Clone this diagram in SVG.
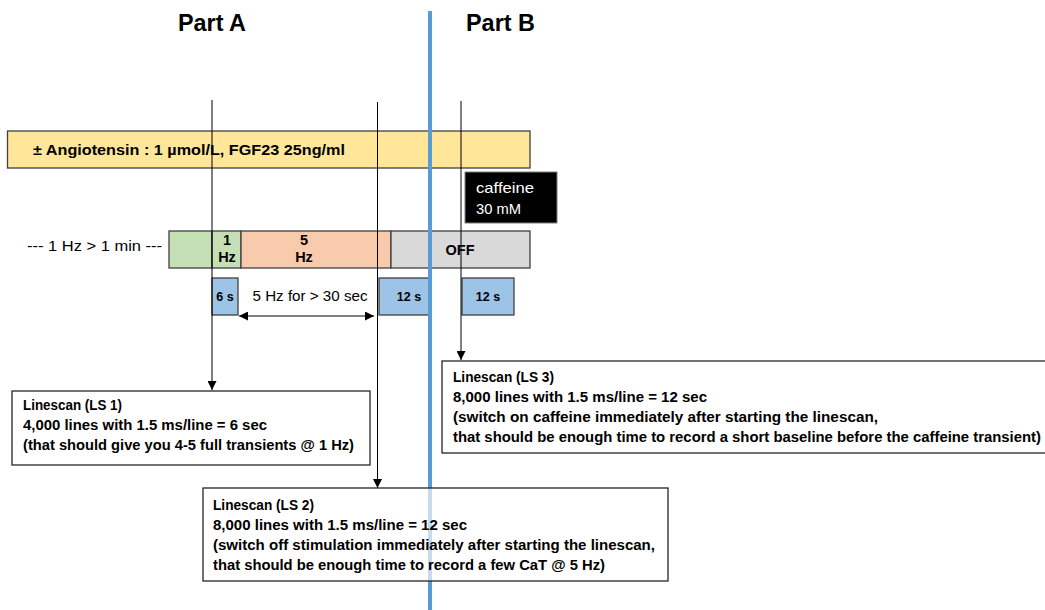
<svg xmlns="http://www.w3.org/2000/svg" width="1045" height="610" viewBox="0 0 1045 610">
<defs>
<style>
text{font-family:"Liberation Sans",Arial,sans-serif;fill:#000}
.t{font-size:23px;font-weight:bold}
.b{font-size:14.5px;font-weight:bold}
.n{font-size:14.5px}
.s{font-size:12.5px;font-weight:bold}
.bar{stroke:#404040;stroke-width:1.3}
.ln{stroke:#000;stroke-width:1;fill:none}
.box{fill:#fff;stroke:#262626;stroke-width:1.3}
</style>
<marker id="ah" viewBox="0 0 10 10" refX="10" refY="5" markerWidth="9" markerHeight="9" markerUnits="userSpaceOnUse" orient="auto-start-reverse">
<path d="M0,0 L10,5 L0,10 z" fill="#000"/>
</marker>
</defs>
<rect width="1045" height="610" fill="#fff"/>

<g id="titles">
<text class="t" x="212" y="31" text-anchor="middle" textLength="68" lengthAdjust="spacingAndGlyphs">Part A</text>
<text class="t" x="500.5" y="31" text-anchor="middle" textLength="69" lengthAdjust="spacingAndGlyphs">Part B</text>
</g>

<g id="treatment">
<rect class="bar" x="7.5" y="131" width="522.5" height="37" fill="#FFE699"/>
<text class="b" x="33" y="155" font-size="15" textLength="312" lengthAdjust="spacingAndGlyphs">± Angiotensin : 1 µmol/L, FGF23 25ng/ml</text>
</g>

<g id="caffeine">
<rect x="465" y="172" width="92" height="51" fill="#000" stroke="#7f7f7f" stroke-width="1"/>
<text class="n" x="476" y="193" style="fill:#fff" textLength="58" lengthAdjust="spacingAndGlyphs">caffeine</text>
<text class="n" x="476" y="214" style="fill:#fff" textLength="45" lengthAdjust="spacingAndGlyphs">30 mM</text>
</g>

<g id="stim-label">
<text class="n" x="27" y="251" textLength="135" lengthAdjust="spacingAndGlyphs">--- 1 Hz &gt; 1 min ---</text>
</g>

<g id="stim-green">
<rect class="bar" x="169" y="231" width="43" height="37" fill="#C5E0B4"/>
</g>
<g id="stim-1hz">
<rect class="bar" x="212" y="231" width="29" height="37" fill="#C5E0B4"/>
<text class="b" x="227" y="245" text-anchor="middle">1</text>
<text class="b" x="227" y="262" text-anchor="middle">Hz</text>
</g>
<g id="stim-5hz">
<rect class="bar" x="241" y="231" width="150" height="37" fill="#F8CBAD"/>
<text class="b" x="304" y="245" text-anchor="middle">5</text>
<text class="b" x="304" y="262" text-anchor="middle">Hz</text>
</g>
<g id="stim-off">
<rect class="bar" x="391" y="231" width="139" height="37" fill="#D9D9D9"/>
<text class="b" x="460" y="255" text-anchor="middle">OFF</text>
</g>

<g id="scan-6s">
<rect class="bar" x="212" y="278" width="26" height="37" fill="#9DC3E6"/>
<text class="s" x="225" y="301" text-anchor="middle">6 s</text>
</g>
<g id="scan-12s-a">
<rect class="bar" x="379" y="278" width="51" height="37" fill="#9DC3E6"/>
<text class="s" x="409" y="301" text-anchor="middle">12 s</text>
</g>
<g id="scan-12s-b">
<rect class="bar" x="462" y="278" width="52" height="37" fill="#9DC3E6"/>
<text class="s" x="488" y="301" text-anchor="middle">12 s</text>
</g>

<g id="duration">
<text class="n" x="310" y="301" text-anchor="middle" textLength="115" lengthAdjust="spacingAndGlyphs">5 Hz for &gt; 30 sec</text>
</g>

<g id="connectors">
<line class="ln" x1="212" y1="100" x2="212" y2="390" marker-end="url(#ah)"/>
<line class="ln" x1="377.5" y1="102" x2="377.5" y2="488" marker-end="url(#ah)"/>
<line class="ln" x1="461" y1="101" x2="461" y2="360" marker-end="url(#ah)"/>
<line class="ln" x1="239" y1="316" x2="374" y2="316" marker-start="url(#ah)" marker-end="url(#ah)"/>
<line x1="430" y1="11" x2="430" y2="610" stroke="#5B9BD5" stroke-width="4"/>
</g>

<g id="ls1">
<rect class="box" x="12" y="391" width="358" height="74"/>
<text class="b" x="23" y="410" textLength="99" lengthAdjust="spacingAndGlyphs">Linescan (LS 1)</text>
<text class="b" x="23" y="430" textLength="244" lengthAdjust="spacingAndGlyphs">4,000  lines with 1.5 ms/line = 6 sec</text>
<text class="b" x="23" y="450" textLength="331" lengthAdjust="spacingAndGlyphs">(that should give you 4-5 full transients @ 1 Hz)</text>
</g>

<g id="ls2">
<rect class="box" x="203" y="488" width="465" height="93" fill-opacity="0.65"/>
<text class="b" x="213" y="510" textLength="101" lengthAdjust="spacingAndGlyphs">Linescan (LS 2)</text>
<text class="b" x="213" y="530" textLength="254" lengthAdjust="spacingAndGlyphs">8,000  lines with 1.5 ms/line = 12 sec</text>
<text class="b" x="213" y="550" textLength="442" lengthAdjust="spacingAndGlyphs">(switch off stimulation immediately after starting the linescan,</text>
<text class="b" x="213" y="570" textLength="392" lengthAdjust="spacingAndGlyphs">that should be enough time to record a few CaT @ 5 Hz)</text>
</g>

<g id="ls3">
<rect class="box" x="442" y="361" width="610" height="92"/>
<text class="b" x="453" y="382" textLength="101" lengthAdjust="spacingAndGlyphs">Linescan (LS 3)</text>
<text class="b" x="453" y="402" textLength="254" lengthAdjust="spacingAndGlyphs">8,000  lines with 1.5 ms/line = 12 sec</text>
<text class="b" x="453" y="422" textLength="425" lengthAdjust="spacingAndGlyphs">(switch on caffeine immediately after starting the linescan,</text>
<text class="b" x="453" y="442" textLength="588" lengthAdjust="spacingAndGlyphs">that should be enough time to record a short baseline before the caffeine transient)</text>
</g>
</svg>
